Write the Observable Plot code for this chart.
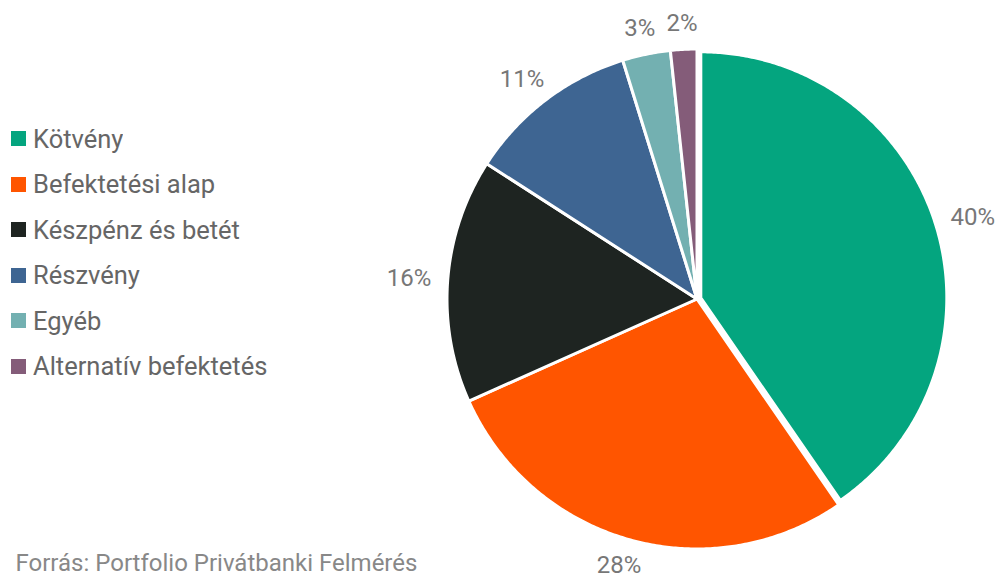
<!DOCTYPE html>
<html>
<head>
<meta charset="utf-8">
<script src="https://cdn.jsdelivr.net/npm/d3@7"></script>
<script src="https://cdn.jsdelivr.net/npm/@observablehq/plot@0.6"></script>
<style>
  html, body { margin: 0; padding: 0; background: #fff; }
  #chart { position: relative; width: 1001px; height: 580px; overflow: hidden; }
  #legend { position: absolute; left: 11px; top: 116px; width: 340px; }
  #legend .lg-swatches { margin: 0; font-family: Roboto, sans-serif; font-size: 25.5px; color: #666; }
  #legend .lg-swatch { height: 45.5px; padding: 0; margin: 0; display: flex; align-items: center; }
  #legend .lg-swatch svg { margin-right: 7px; }
</style>
</head>
<body>
<div id="chart"><div id="legend"></div></div>
<script>
// ---- data ----
const categories = ["Kötvény", "Befektetési alap", "Készpénz és betét", "Részvény", "Egyéb", "Alternatív befektetés"];
const shares = [40.4, 27.9, 15.8, 11.1, 3.1, 1.7];
const colors = ["#04a57f", "#ff5500", "#1e2421", "#3e6592", "#73b0b1", "#845c79"];
const source = "Forrás: Portfolio Privátbanki Felmérés";

// ---- layout constants ----
const W = 1001, H = 580;
const cx = 696.5, cy = 298.5;   // pie centre in page pixels
const R = 250;                  // pie radius
const explode = 4, shrink = 4;  // first slice pulled out
const R0 = 268;                 // label anchor radius
const fs = 24;

const arcs = d3.pie().sort(null).value(d => d)(shares);
const slices = arcs.map((p, i) => ({
  category: categories[i], share: shares[i],
  start: p.startAngle, end: p.endAngle, mid: (p.startAngle + p.endAngle) / 2
}));

const pts = [];
slices.forEach((s, i) => {
  const off = i === 0 ? explode : 0;
  const r = i === 0 ? R - shrink : R;
  const ox = off * Math.sin(s.mid), oy = off * Math.cos(s.mid);
  pts.push({category: s.category, x: ox, y: oy});
  const n = Math.max(2, Math.ceil((s.end - s.start) / (Math.PI / 360)));
  for (let k = 0; k <= n; k++) {
    const a = s.start + (s.end - s.start) * k / n;
    pts.push({category: s.category, x: ox + r * Math.sin(a), y: oy + r * Math.cos(a)});
  }
});

const labelData = slices.map(s => {
  const t = Math.round(s.share) + "%";
  const w = t.length * fs * 0.58, h = fs * 0.7;
  const ux = Math.sin(s.mid), uy = Math.cos(s.mid);
  return {text: t, x: ux * R0 + ux * w / 2, y: uy * R0 + uy * h / 2};
});

const plot = Plot.plot({
  width: W, height: H, margin: 0,
  x: {domain: [-cx, W - cx], axis: null},
  y: {domain: [-(H - cy), cy], axis: null},
  color: {domain: categories, range: colors},
  style: {fontFamily: "Roboto, sans-serif", background: "white", overflow: "visible"},
  marks: [
    Plot.line(pts, {x: "x", y: "y", z: "category", fill: "category", stroke: "white", strokeWidth: 3, curve: "linear-closed"}),
    Plot.text(labelData, {x: "x", y: "y", text: "text", fill: "#777", fontSize: fs, lineAnchor: "middle", textAnchor: "middle"}),
    Plot.text([source], {text: d => d, frameAnchor: "bottom-left", dx: 15, dy: -17, lineAnchor: "middle", textAnchor: "start", fill: "#888", fontSize: 24})
  ]
});
document.getElementById("chart").prepend(plot);

const legend = Plot.legend({
  color: {domain: categories, range: colors},
  legend: "swatches", columns: 1, swatchSize: 15, className: "lg"
});
document.getElementById("legend").appendChild(legend);
</script>
</body>
</html>
